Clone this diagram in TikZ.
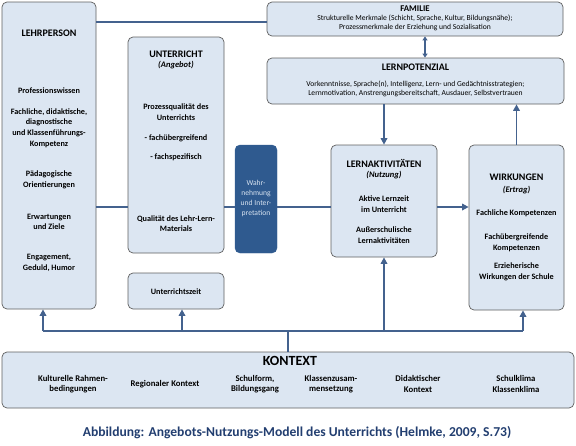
\documentclass[tikz,border=0pt]{standalone}
\usepackage{fontspec}
\setmainfont{Carlito}
\usetikzlibrary{arrows.meta}
\definecolor{boxfill}{RGB}{220,230,242}
\definecolor{boxline}{RGB}{95,95,95}
\definecolor{linkblue}{RGB}{68,98,142}
\definecolor{wahrblue}{RGB}{47,90,143}
\definecolor{wahrtext}{RGB}{215,226,240}
\definecolor{capblue}{RGB}{34,62,112}
\begin{document}
\begin{tikzpicture}[x=1pt, y=-1pt,
  box/.style={draw=boxline, fill=boxfill, rounded corners=5pt, line width=0.7pt, inner sep=0pt},
  darkbox/.style={draw=wahrblue, fill=wahrblue, rounded corners=5pt, inner sep=0pt},
  ttl/.style={font=\fontsize{10}{12}\selectfont\bfseries, inner sep=0pt},
  sub/.style={font=\fontsize{8.5}{10}\selectfont\bfseries\itshape, inner sep=0pt},
  itm/.style={font=\fontsize{8.2}{10.6}\selectfont\bfseries, align=center, inner sep=0pt},
  ctx/.style={font=\fontsize{8.7}{10.6}\selectfont\bfseries, align=center, inner sep=0pt},
  txt/.style={font=\fontsize{7.6}{8.8}\selectfont, align=center, inner sep=0pt},
  link/.style={draw=linkblue, line width=1.6pt},
  arr/.style={link, -{Triangle[width=6.5pt,length=6.5pt]}},
  dbl/.style={link, line width=1.4pt, {Triangle[width=5pt,length=4pt]}-{Triangle[width=5pt,length=4pt]}}]
  \useasboundingbox (0,0) rectangle (576,445);

  % boxes
  \node[box, minimum width=94pt, minimum height=307pt] (lehr) at (49,155.5) {};
  \node[box, minimum width=96pt, minimum height=216pt] (unt) at (176,145) {};
  \node[box, minimum width=96pt, minimum height=36pt] (zeit) at (176,291) {};
  \node[darkbox, minimum width=42pt, minimum height=108pt] (wahr) at (256,199) {};
  \node[box, minimum width=296pt, minimum height=34pt] (fam) at (415,19) {};
  \node[box, minimum width=297pt, minimum height=46pt] (pot) at (415.5,81) {};
  \node[box, minimum width=106pt, minimum height=112pt] (lern) at (384,201) {};
  \node[box, minimum width=95pt, minimum height=165pt] (wirk) at (516.5,227.5) {};
  \node[box, minimum width=572pt, minimum height=56pt] (kontext) at (288,380) {};

  % connectors
  \coordinate (top) at (0,22);
  \coordinate (mid) at (0,207);
  \coordinate (kl) at (43,331);
  \coordinate (kz) at (182,331);
  \coordinate (kr) at (523,331);
  \coordinate (fp) at (425,0);
  \draw[link] (lehr.east |- top) -- (fam.west |- top);
  \draw[link] (lehr.east |- mid) -- (unt.west |- mid);
  \draw[link] (unt.east |- mid) -- (wahr.west |- mid);
  \draw[link] (wahr.east |- mid) -- (lern.west |- mid);
  \draw[arr] (lern.east |- mid) -- (wirk.west |- mid);
  \draw[dbl] (fp |- fam.south) -- (fp |- pot.north);
  \draw[arr] (pot.south -| lern.north) -- (lern.north);
  \draw[arr] (wirk.north) -- (wirk.north |- pot.south);
  \draw[link] (kontext.north) -- (kontext.north |- kl);
  \draw[link] (kl) -- (kr);
  \draw[arr] (kl) -- (kl |- lehr.south);
  \draw[arr] (kz) -- (kz |- zeit.south);
  \draw[arr] (lern.south |- kl) -- (lern.south);
  \draw[arr] (kr) -- (kr |- wirk.south);

  % LEHRPERSON
  \node[ttl] (lehrT) at (49,33) {LEHRPERSON};
  \node[itm] (lehrA) at (49,91) {Professionswissen};
  \node[itm] (lehrB) at (49,128) {Fachliche, didaktische,\\diagnostische\\und Klassenführungs-\\Kompetenz};
  \node[itm] (lehrC) at (49,180) {Pädagogische\\Orientierungen};
  \node[itm] (lehrD) at (49,222) {Erwartungen\\und Ziele};
  \node[itm] (lehrE) at (49,263) {Engagement,\\Geduld, Humor};

  % UNTERRICHT
  \node[ttl] (untT) at (176,54) {UNTERRICHT};
  \node[sub] (untS) at (176,65) {(Angebot)};
  \node[itm] (untA) at (176,112) {Prozessqualität des\\Unterrichts};
  \node[itm] (untB) at (176,138) {- fachübergreifend};
  \node[itm] (untC) at (176,157) {- fachspezifisch};
  \node[itm] (untD) at (176,223.5) {Qualität des Lehr-Lern-\\Materials};
  \node[itm] (zeitT) at (176,292) {Unterrichtszeit};
  \node[txt, text=wahrtext, font=\fontsize{7.6}{10}\selectfont] (wahrT) at (256,198) {Wahr-\\nehmung\\und Inter-\\pretation};

  % FAMILIE / LERNPOTENZIAL
  \node[ttl, font=\fontsize{8.8}{10}\selectfont\bfseries] (famT) at (415,8.5) {FAMILIE};
  \node[txt] (famA) at (415,22.5) {Strukturelle Merkmale (Schicht, Sprache, Kultur, Bildungsnähe);\\Prozessmerkmale der Erziehung und Sozialisation};
  \node[ttl] (potT) at (415.5,67) {LERNPOTENZIAL};
  \node[txt] (potA) at (415.5,88.5) {Vorkenntnisse, Sprache(n), Intelligenz, Lern- und Gedächtnisstrategien;\\Lernmotivation, Anstrengungsbereitschaft, Ausdauer, Selbstvertrauen};

  % LERNAKTIVITAETEN
  \node[ttl] (lernT) at (384,163) {LERNAKTIVITÄTEN};
  \node[sub] (lernS) at (384,175) {(Nutzung)};
  \node[itm] (lernA) at (384,204) {Aktive Lernzeit\\im Unterricht};
  \node[itm] (lernB) at (384,235) {Außerschulische\\Lernaktivitäten};

  % WIRKUNGEN
  \node[ttl] (wirkT) at (516.5,177) {WIRKUNGEN};
  \node[sub] (wirkS) at (516.5,190) {(Ertrag)};
  \node[itm] (wirkA) at (516.5,213) {Fachliche Kompetenzen};
  \node[itm] (wirkB) at (516.5,243) {Fachübergreifende\\Kompetenzen};
  \node[itm] (wirkC) at (516.5,272) {Erzieherische\\Wirkungen der Schule};

  % KONTEXT
  \node[ttl, font=\fontsize{14}{16}\selectfont\bfseries] (konT) at (290,361) {KONTEXT};
  \node[ctx] (konA) at (73,384) {Kulturelle Rahmen-\\bedingungen};
  \node[ctx] (konB) at (165,384) {Regionaler Kontext};
  \node[ctx] (konC) at (255,384) {Schulform,\\Bildungsgang};
  \node[ctx] (konD) at (331,384) {Klassenzusam-\\mensetzung};
  \node[ctx] (konE) at (418,384) {Didaktischer\\Kontext};
  \node[ctx] (konF) at (516,384) {Schulklima\\Klassenklima};

  \node[ttl, text=capblue, font=\fontsize{13.6}{15}\selectfont\bfseries] (cap) at (297,433) {Abbildung: Angebots-Nutzungs-Modell des Unterrichts (Helmke, 2009, S.73)};
\end{tikzpicture}
\end{document}
